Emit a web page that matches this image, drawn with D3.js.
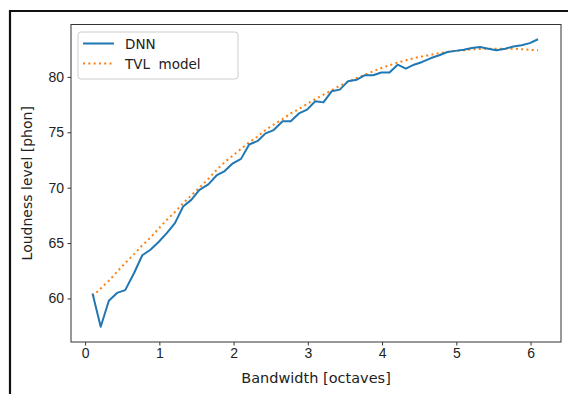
<!DOCTYPE html>
<html>
<head>
<script src="https://cdn.jsdelivr.net/npm/d3@7"></script>
<style>
  body { margin: 0; background: #fff; }
  svg { display: block; font-family: "DejaVu Sans", sans-serif; }
</style>
</head>
<body>
<svg id="chart" width="568" height="394"></svg>
<script>
// bandwidth in octaves (x)
const bandwidth = [0.10, 0.21, 0.32, 0.43, 0.54, 0.66, 0.77, 0.88, 0.99, 1.10,
  1.21, 1.32, 1.43, 1.54, 1.66, 1.77, 1.88, 1.99, 2.10, 2.21,
  2.32, 2.43, 2.54, 2.66, 2.77, 2.88, 2.99, 3.10, 3.21, 3.32,
  3.43, 3.54, 3.66, 3.77, 3.88, 3.99, 4.10, 4.21, 4.32, 4.43,
  4.54, 4.66, 4.77, 4.88, 4.99, 5.10, 5.21, 5.32, 5.43, 5.54,
  5.66, 5.77, 5.88, 5.99, 6.10];
const dnn = [60.45, 57.45, 59.8, 60.5, 60.75, 62.3, 63.9, 64.4, 65.1, 65.9,
  66.8, 68.3, 68.9, 69.8, 70.3, 71.1, 71.5, 72.2, 72.6, 73.9,
  74.2, 74.9, 75.2, 76.0, 76.0, 76.7, 77.05, 77.8, 77.7, 78.7,
  78.85, 79.6, 79.75, 80.15, 80.15, 80.4, 80.4, 81.1, 80.75, 81.1,
  81.35, 81.7, 81.95, 82.25, 82.35, 82.45, 82.6, 82.7, 82.55, 82.4,
  82.55, 82.75, 82.85, 83.05, 83.4];
const tvl = [60.2, 60.9, 61.6, 62.4, 63.2, 64.0, 64.8, 65.5, 66.3, 67.1,
  67.8, 68.6, 69.3, 70.0, 70.8, 71.6, 72.3, 72.9, 73.5, 74.1,
  74.6, 75.2, 75.7, 76.2, 76.7, 77.1, 77.55, 78.0, 78.4, 78.8,
  79.2, 79.55, 79.9, 80.2, 80.5, 80.8, 81.05, 81.3, 81.5, 81.7,
  81.85, 82.0, 82.15, 82.25, 82.35, 82.4, 82.48, 82.52, 82.55, 82.55,
  82.55, 82.55, 82.5, 82.45, 82.4];
const xTicks = [0, 1, 2, 3, 4, 5, 6];
const yTicks = [60, 65, 70, 75, 80];
const seriesNames = ["DNN", "TVL  model"];

const svg = d3.select('#chart');
const margin = {top: 24.5, right: 7, bottom: 52, left: 71};
const width = +svg.attr('width');
const height = +svg.attr('height');
const innerWidth = width - margin.left - margin.right;
const innerHeight = height - margin.top - margin.bottom;

// scanned page frame
svg.append('path')
  .attr('d', `M10,${height} L10,11 L${width},11`)
  .attr('fill', 'none').attr('stroke', '#111').attr('stroke-width', 2.2);

const xScale = d3.scaleLinear().domain([-0.19, 6.41]).range([0, innerWidth]);
const yScale = d3.scaleLinear().domain([56.07, 84.73]).range([innerHeight, 0]);

const g = svg.append('g').attr('transform', `translate(${margin.left},${margin.top})`);

const xAxis = d3.axisBottom(xScale).tickValues(xTicks).tickFormat(d3.format('d')).tickSize(3.5).tickPadding(3);
const yAxis = d3.axisLeft(yScale).tickValues(yTicks).tickFormat(d3.format('d')).tickSize(3.5).tickPadding(3.5);

g.append('g').attr('transform', `translate(0,${innerHeight})`).call(xAxis);
g.append('g').call(yAxis);
g.selectAll('.domain').remove();
g.selectAll('.tick line').attr('stroke', '#333').attr('stroke-width', 1);
g.selectAll('.tick text').attr('fill', '#222').style('font-size', '14px');

g.append('rect').attr('width', innerWidth).attr('height', innerHeight)
  .attr('fill', 'none').attr('stroke', '#333').attr('stroke-width', 1);

const pts = (ys) => bandwidth.map((x, i) => [x, ys[i]]);
const line = d3.line().x(d => xScale(d[0])).y(d => yScale(d[1]));

g.append('path').datum(pts(tvl)).attr('d', line)
  .attr('fill', 'none').attr('stroke', '#ff7f0e').attr('stroke-width', 2)
  .attr('stroke-dasharray', '2,3.3');
g.append('path').datum(pts(dnn)).attr('d', line)
  .attr('fill', 'none').attr('stroke', '#1f77b4').attr('stroke-width', 2)
  .attr('stroke-linejoin', 'round');

// axis labels
svg.append('text').attr('x', margin.left + innerWidth / 2).attr('y', 383)
  .attr('text-anchor', 'middle').attr('fill', '#222').style('font-size', '14.5px')
  .text('Bandwidth [octaves]');
svg.append('text')
  .attr('transform', `translate(32,${margin.top + innerHeight / 2}) rotate(-90)`)
  .attr('text-anchor', 'middle').attr('fill', '#222').style('font-size', '14px')
  .text('Loudness level [phon]');

// legend
const legend = svg.append('g').attr('transform', 'translate(78,32)');
legend.append('rect').attr('width', 160).attr('height', 47).attr('rx', 3)
  .attr('fill', '#fff').attr('stroke', '#ccc').attr('stroke-width', 1);
const styles = [
  {color: '#1f77b4', dash: null},
  {color: '#ff7f0e', dash: '2,3.3'}
];
seriesNames.forEach((name, i) => {
  const y = 11.5 + i * 20;
  legend.append('line').attr('x1', 5).attr('x2', 36).attr('y1', y).attr('y2', y)
    .attr('stroke', styles[i].color).attr('stroke-width', 2)
    .attr('stroke-dasharray', styles[i].dash);
  legend.append('text').attr('x', 47).attr('y', y + 5).attr('fill', '#222')
    .style('font-size', '13.5px').style('white-space', 'pre').text(name);
});
</script>
</body>
</html>
